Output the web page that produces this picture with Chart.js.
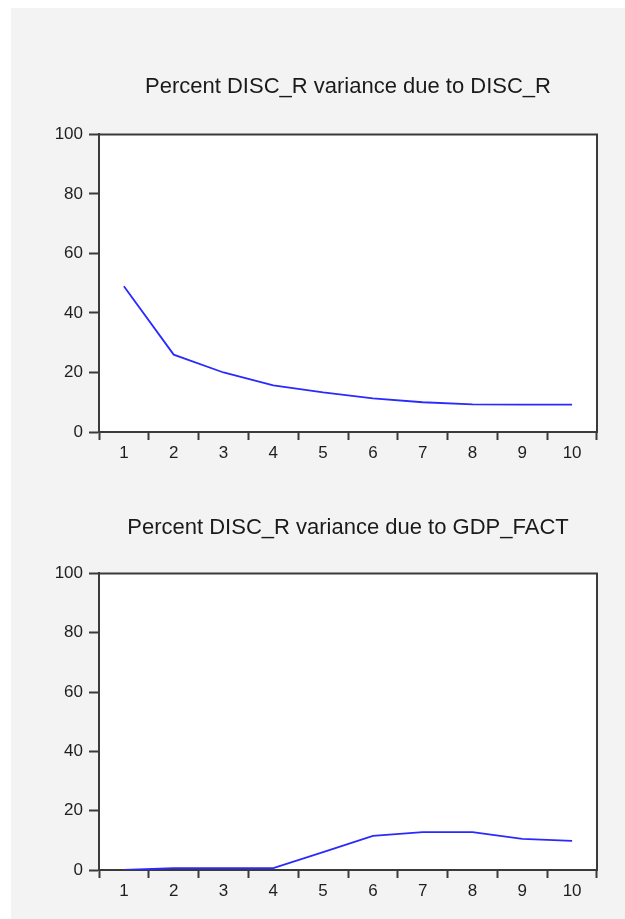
<!DOCTYPE html>
<html>
<head>
<meta charset="utf-8">
<script src="https://cdn.jsdelivr.net/npm/chart.js@4/dist/chart.umd.min.js"></script>
<style>
  html, body { margin: 0; padding: 0; background: #ffffff; }
  body { width: 625px; height: 919px; position: relative; overflow: hidden; }
  #panel { position: absolute; left: 11px; top: 8px; right: 0; bottom: 0; background: #f3f3f3; }
  canvas { position: absolute; left: 0; }
  #c1 { top: 0; }
  #c2 { top: 470px; }
</style>
</head>
<body>
<div id="panel"></div>
<canvas id="c1" width="625" height="470"></canvas>
<canvas id="c2" width="625" height="449"></canvas>
<script>
// Forecast horizons (periods ahead)
const horizons = ['1', '2', '3', '4', '5', '6', '7', '8', '9', '10'];
// Share of DISC_R forecast-error variance explained by each shock, in percent
const shareFromDiscR = [49.0, 26.0, 20.0, 15.7, 13.3, 11.3, 10.0, 9.3, 9.2, 9.2];
const shareFromGdpFact = [0.0, 0.6, 0.6, 0.6, 6.0, 11.5, 12.8, 12.8, 10.5, 9.8];
// Value axis labels
const percentTicks = [0, 20, 40, 60, 80, 100];

const titleTop = 'Percent DISC_R variance due to DISC_R';
const titleBottom = 'Percent DISC_R variance due to GDP_FACT';

const FONT = '"Liberation Sans", Arial, Helvetica, sans-serif';
const AXIS_COLOR = '#3a3a3a';
const LINE_COLOR = '#2a2aff';

// White plot box with a dark frame on all four sides
const plotFrame = {
  id: 'plotFrame',
  beforeDraw(chart) {
    const { ctx, chartArea: a } = chart;
    ctx.save();
    ctx.fillStyle = '#ffffff';
    ctx.fillRect(a.left, a.top, a.right - a.left, a.bottom - a.top);
    ctx.restore();
  },
  afterDraw(chart) {
    const { ctx, chartArea: a } = chart;
    ctx.save();
    ctx.strokeStyle = AXIS_COLOR;
    ctx.lineWidth = 2;
    ctx.beginPath();
    ctx.moveTo(a.left, a.top);
    ctx.lineTo(a.right, a.top);
    ctx.lineTo(a.right, a.bottom);
    ctx.stroke();
    ctx.restore();
  }
};

// Centre the title over the plot box rather than over the whole canvas
const titleOverPlot = {
  id: 'titleOverPlot',
  afterLayout(chart) {
    const t = chart.titleBlock;
    if (!t) return;
    t.left = chart.chartArea.left;
    t.right = chart.chartArea.right;
    t.width = t.right - t.left;
  }
};

function makePanel(canvasId, title, values, titlePad, bottomPad) {
  return new Chart(document.getElementById(canvasId), {
    type: 'line',
    data: {
      labels: horizons,
      datasets: [{
        data: values,
        borderColor: LINE_COLOR,
        borderWidth: 1.8,
        pointRadius: 0,
        tension: 0,
        fill: false
      }]
    },
    options: {
      responsive: false,
      animation: false,
      events: [],
      layout: { padding: { left: 0, right: 28, top: 0, bottom: bottomPad } },
      plugins: {
        legend: { display: false },
        tooltip: { enabled: false },
        title: {
          display: true,
          text: title,
          color: '#1a1a1a',
          font: { family: FONT, size: 22, weight: 'normal', lineHeight: 1.2 },
          padding: titlePad
        }
      },
      scales: {
        x: {
          type: 'category',
          offset: true,
          grid: {
            offset: true,
            drawOnChartArea: false,
            drawTicks: true,
            tickLength: 8,
            tickWidth: 2,
            tickColor: AXIS_COLOR
          },
          border: { display: true, color: AXIS_COLOR, width: 2 },
          ticks: {
            color: '#1e1e1e',
            padding: 3,
            maxRotation: 0,
            autoSkip: false,
            font: { family: FONT, size: 17 }
          },
          afterFit(scale) { scale.height = 38; }
        },
        y: {
          min: 0,
          max: 100,
          afterBuildTicks(scale) {
            scale.ticks = percentTicks.map(v => ({ value: v }));
          },
          grid: {
            drawOnChartArea: false,
            drawTicks: true,
            tickLength: 10,
            tickWidth: 2,
            tickColor: AXIS_COLOR
          },
          border: { display: true, color: AXIS_COLOR, width: 2 },
          ticks: {
            color: '#1e1e1e',
            padding: 6,
            font: { family: FONT, size: 17 }
          },
          afterFit(scale) { scale.width = 99; }
        }
      }
    },
    plugins: [plotFrame, titleOverPlot]
  });
}

makePanel('c1', titleTop, shareFromDiscR, { top: 74, bottom: 34 }, 0);
makePanel('c2', titleBottom, shareFromGdpFact, { top: 45, bottom: 32 }, 11);
</script>
</body>
</html>
